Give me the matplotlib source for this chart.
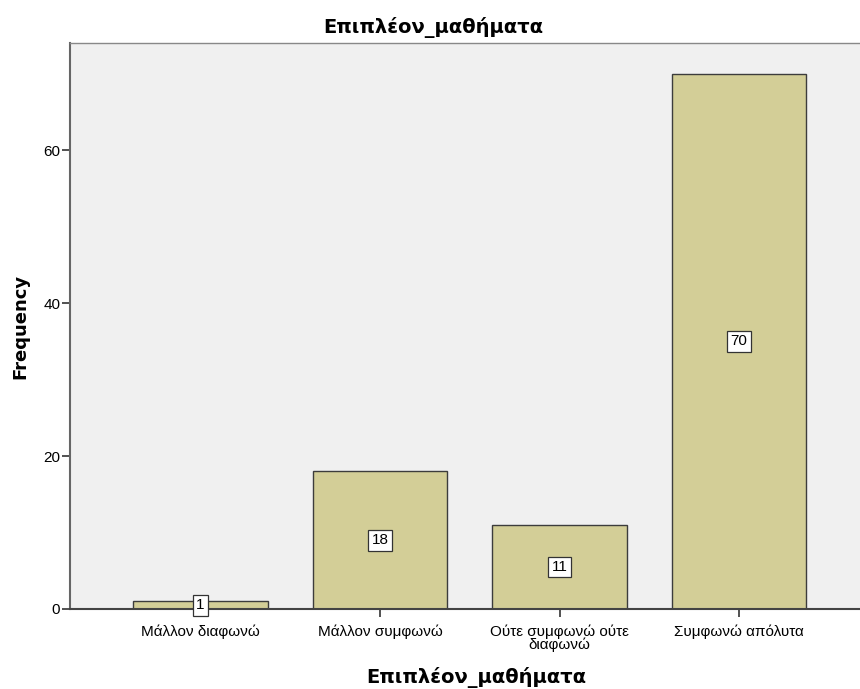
import matplotlib
matplotlib.use("Agg")
import matplotlib.pyplot as plt

categories = ["Μάλλον διαφωνώ", "Μάλλον συμφωνώ", "Ούτε συμφωνώ ούτε\nδιαφωνώ", "Συμφωνώ απόλυτα"]
frequencies = [1, 18, 11, 70]
yticks = [0, 20, 40, 60]

plt.rcParams['font.family'] = ['Liberation Sans', 'DejaVu Sans']
heading_font = ['DejaVu Sans']

fig = plt.figure(figsize=(8.6, 6.89), dpi=100)
W, H = 860, 689
left, right, top, bottom = 70, 869.5, 43, 609
ax = fig.add_axes([left / W, 1 - bottom / H, (right - left) / W, (bottom - top) / H])
ax.set_facecolor("#F0F0F0")

x = list(range(len(categories)))
ax.bar(x, frequencies, width=0.752, color="#D3CE97", edgecolor="#3C3C3C", linewidth=1.0, zorder=2)

for xi, v in zip(x, frequencies):
    ax.text(xi, v / 2, str(v), ha="center", va="center", fontsize=11, zorder=3,
            bbox=dict(boxstyle="square,pad=0.22", facecolor="white", edgecolor="#333333", linewidth=0.9))

ax.set_xlim(-0.727, 3.727)
ax.set_ylim(0, 74)
ax.set_yticks(yticks)
ax.set_xticks(x)
ax.set_xticklabels(categories, fontsize=11, linespacing=0.9)
ax.tick_params(axis="y", labelsize=11, length=6, width=1.2, color="#333333", pad=1)
ax.tick_params(axis="x", length=6, width=1.2, color="#333333", pad=5)

for side in ["top", "right"]:
    ax.spines[side].set_color("#888888")
    ax.spines[side].set_linewidth(1.0)
ax.spines["left"].set_color("#666666")
ax.spines["left"].set_linewidth(1.5)
ax.spines["bottom"].set_color("#444444")
ax.spines["bottom"].set_linewidth(1.5)

fig.text(433 / W, 1 - 28 / H, "Επιπλέον_μαθήματα", ha="center", va="center",
         fontsize=14, fontweight="bold", family=heading_font)
fig.text(476 / W, 1 - 677 / H, "Επιπλέον_μαθήματα", ha="center", va="center",
         fontsize=14, fontweight="bold", family=heading_font)
ax.set_ylabel("Frequency", fontsize=13, fontweight="bold", family=heading_font, labelpad=10)

fig.savefig("out.png", dpi=100, facecolor="white")
